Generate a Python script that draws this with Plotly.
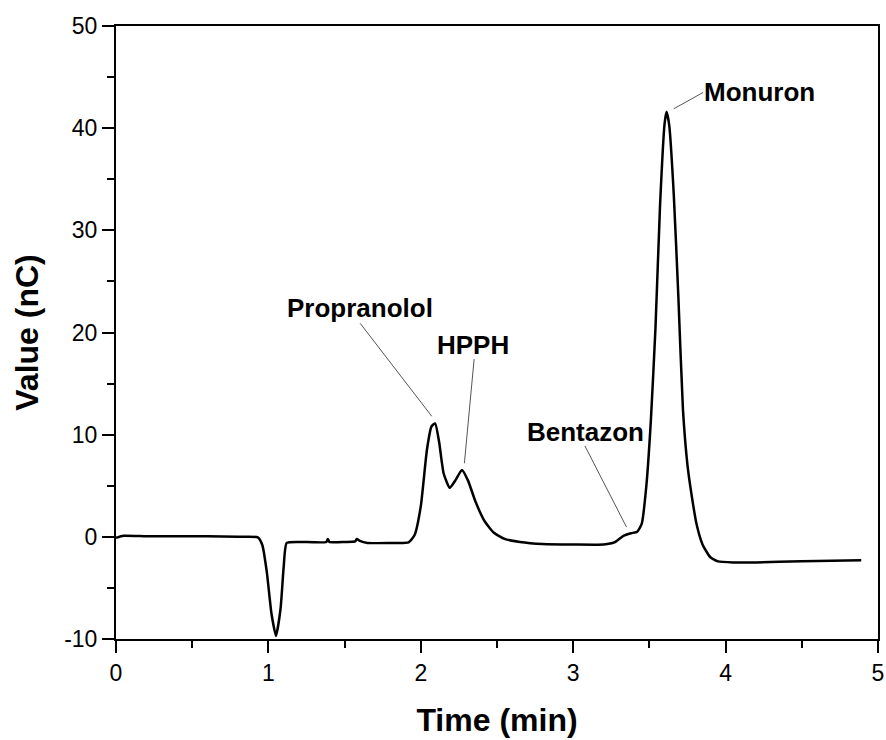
import plotly.graph_objects as go

time_min = [0.00, 0.05, 0.20, 0.40, 0.60, 0.80, 0.93, 0.96, 0.99, 1.02, 1.05, 1.08, 1.10, 1.12,
            1.20, 1.38, 1.39, 1.40, 1.50, 1.57, 1.58, 1.60, 1.65, 1.80, 1.92, 1.96, 2.00, 2.04,
            2.07, 2.094, 2.12, 2.15, 2.19, 2.23, 2.27, 2.31, 2.36, 2.42, 2.48, 2.55, 2.65, 2.80,
            3.00, 3.20, 3.27, 3.33, 3.38, 3.42, 3.45, 3.48, 3.51, 3.54, 3.57, 3.60, 3.613, 3.63,
            3.66, 3.69, 3.72, 3.75, 3.78, 3.81, 3.85, 3.90, 3.95, 4.05, 4.20, 4.50, 4.89]
value_nc = [-0.1, 0.1, 0.05, 0.05, 0.05, 0.0, -0.05, -0.8, -3.5, -7.5, -9.7, -7.0, -3.0, -0.6,
            -0.5, -0.5, -0.2, -0.5, -0.5, -0.45, -0.2, -0.4, -0.6, -0.6, -0.55, 0.2, 3.0, 8.5,
            10.8, 11.1, 9.3, 6.2, 4.8, 5.6, 6.55, 5.5, 3.4, 1.5, 0.4, -0.2, -0.5, -0.7,
            -0.75, -0.75, -0.55, 0.1, 0.35, 0.5, 1.3, 5.0, 11.5, 20.5, 32.5, 40.5, 41.6, 40.3,
            33.5, 23.5, 12.5, 7.0, 3.8, 1.2, -0.8, -2.0, -2.4, -2.5, -2.5, -2.4, -2.3]

x_tick_vals = [0, 1, 2, 3, 4, 5]
x_tick_text = ["0", "1", "2", "3", "4", "5"]
y_tick_vals = [-10, 0, 10, 20, 30, 40, 50]
y_tick_text = ["-10", "0", "10", "20", "30", "40", "50"]

# peak labels: text, text position, leader line start, leader line end
peak_names = ["Propranolol", "HPPH", "Bentazon", "Monuron"]
label_x = [1.60, 2.34, 3.08, 4.22]
label_y = [22.4, 18.8, 10.3, 43.5]
leader_x0 = [1.602, 2.35, 3.077, 3.853]
leader_y0 = [20.9, 17.4, 8.9, 43.5]
leader_x1 = [2.072, 2.286, 3.35, 3.66]
leader_y1 = [11.8, 7.2, 0.95, 41.9]

fig = go.Figure()
fig.add_trace(go.Scatter(x=time_min, y=value_nc, mode="lines",
                         line=dict(color="black", width=2.5, shape="spline", smoothing=0.5),
                         showlegend=False))

for i, name in enumerate(peak_names):
    fig.add_shape(type="line", x0=leader_x0[i], y0=leader_y0[i], x1=leader_x1[i], y1=leader_y1[i],
                  xref="x", yref="y", line=dict(color="#555555", width=1))
    fig.add_annotation(x=label_x[i], y=label_y[i], text="<b>%s</b>" % name, showarrow=False,
                       font=dict(size=26, color="black"), xanchor="center", yanchor="middle")

axis_common = dict(showline=True, linecolor="black", linewidth=2, mirror=True,
                   ticks="outside", ticklen=12, tickwidth=2, tickcolor="black",
                   showgrid=False, zeroline=False, automargin=False,
                   tickfont=dict(size=23, color="black"))

fig.update_xaxes(range=[0, 5], tickmode="array", tickvals=x_tick_vals, ticktext=x_tick_text,
                 minor=dict(dtick=0.5, tick0=0, ticks="outside", ticklen=7, tickwidth=2, tickcolor="black"),
                 title=dict(text="<b>Time (min)</b>", font=dict(size=32, color="black"), standoff=24),
                 **axis_common)
fig.update_yaxes(range=[-10, 50], tickmode="array", tickvals=y_tick_vals, ticktext=y_tick_text,
                 minor=dict(dtick=5, tick0=0, ticks="outside", ticklen=7, tickwidth=2, tickcolor="black"),
                 title=dict(text="<b>Value (nC)</b>", font=dict(size=32, color="black"), standoff=16),
                 **axis_common)

fig.update_layout(width=886, height=740, margin=dict(l=116, r=8, t=26, b=101),
                  paper_bgcolor="white", plot_bgcolor="white",
                  font=dict(family="Arial, Liberation Sans, sans-serif", color="black"))

fig.write_html("out.html",
               config={"displayModeBar": False},
               post_script="document.body.style.margin='0';document.body.style.padding='0';"
                           "document.body.style.overflow='hidden';")
